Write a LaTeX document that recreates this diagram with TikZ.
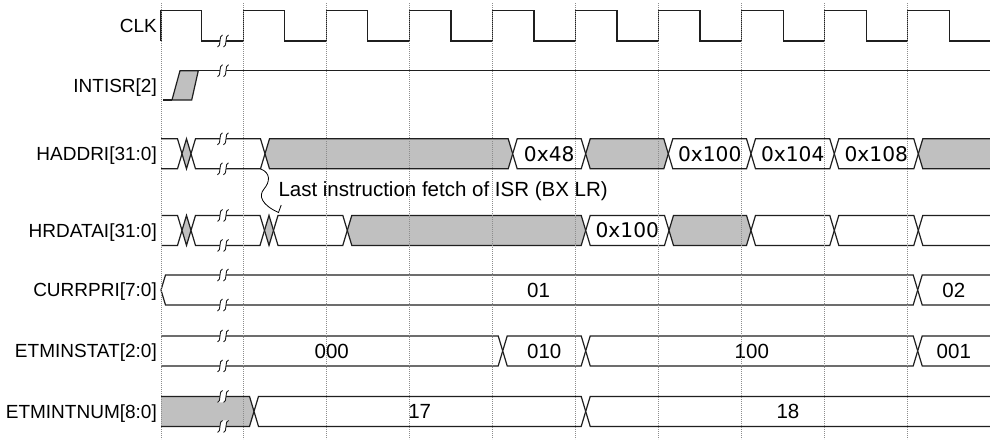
\documentclass[tikz,border=0pt]{standalone}
\usepackage{fontspec}
\setmainfont{Liberation Sans}
\newfontfamily\hexfont{DejaVu Sans}
\usetikzlibrary{arrows.meta}
\definecolor{busgrey}{RGB}{192,192,192}
\definecolor{gridgrey}{RGB}{140,140,140}
\tikzset{
  wave/.style={line width=1.2pt, draw=black!88, line join=miter},
  brkline/.style={line width=0.9pt, draw=black!88},
  gridline/.style={line width=0.7pt, draw=gridgrey, dash pattern=on 0.8pt off 1.2pt},
  lab/.style={anchor=base east, inner sep=0pt, font=\fontsize{19}{22}\selectfont},
  val/.style={anchor=base, inner sep=0pt, font=\fontsize{20.5}{24}\selectfont},
  hexval/.style={anchor=base, inner sep=0pt, font=\hexfont\fontsize{20.2}{24}\selectfont},
  note/.style={anchor=base west, inner sep=0pt, font=\fontsize{20.5}{24}\selectfont},
}
% bus segment between two crossing centres
\newcommand\busmid[4]{%
  \filldraw[wave,fill=#4] (#1,#3) -- ({#1+4.5},{#3-15}) -- ({#2-4.5},{#3-15}) -- (#2,#3) -- ({#2-4.5},{#3+15}) -- ({#1+4.5},{#3+15}) -- cycle;}
% bus segment open on the left (x=161)
\newcommand\busleft[3]{%
  \fill[#3] (161,{#2-15}) -- ({#1-4.5},{#2-15}) -- (#1,#2) -- ({#1-4.5},{#2+15}) -- (161,{#2+15}) -- cycle;
  \draw[wave] (161,{#2-15}) -- ({#1-4.5},{#2-15}) -- (#1,#2) -- ({#1-4.5},{#2+15}) -- (161,{#2+15});}
% bus segment open on the right (x=990)
\newcommand\busright[3]{%
  \fill[#3] (990,{#2-15}) -- ({#1+4.5},{#2-15}) -- (#1,#2) -- ({#1+4.5},{#2+15}) -- (990,{#2+15}) -- cycle;
  \draw[wave] (990,{#2-15}) -- ({#1+4.5},{#2-15}) -- (#1,#2) -- ({#1+4.5},{#2+15}) -- (990,{#2+15});}
% break mark on a line at height #1
\newcommand\brk[1]{%
  \fill[white] (217.5,{#1+6}) .. controls (221.5,{#1+6}) and (218.5,{#1-6}) .. (222.5,{#1-6})
     -- (228.5,{#1-6}) .. controls (224.5,{#1-6}) and (227.5,{#1+6}) .. (223.5,{#1+6}) -- cycle;
  \draw[brkline] (217.5,{#1+6}) .. controls (221.5,{#1+6}) and (218.5,{#1-6}) .. (222.5,{#1-6});
  \draw[brkline] (223.5,{#1+6}) .. controls (227.5,{#1+6}) and (224.5,{#1-6}) .. (228.5,{#1-6});}
\begin{document}
\begin{tikzpicture}[x=1pt,y=-1pt]
\useasboundingbox (0,0) rectangle (990,439);
\fill[white] (0,0) rectangle (990,439);

% ---------------- labels
\node[lab] (lclk) at (157,32.3) {CLK};
\node[lab] (lint) at (157,92.2) {INTISR[2]};
\node[lab] (lhaddr) at (157,160.6) {HADDRI[31:0]};
\node[lab] (lhrdata) at (157,237.2) {HRDATAI[31:0]};
\node[lab] (lcurr) at (157,296.8) {CURRPRI[7:0]};
\node[lab] (lstat) at (157,357.7) {ETMINSTAT[2:0]};
\node[lab] (lnum) at (157,418.2) {ETMINTNUM[8:0]};

% ---------------- CLK
\draw[wave] (161,41) -- (161,10.3) -- (201.7,10.3) -- (201.7,41)
  -- (243.3,41) -- (243.3,10.3) -- (284.8,10.3) -- (284.8,41)
  -- (326.35,41) -- (326.35,10.3) -- (367.85,10.3) -- (367.85,41)
  -- (409.4,41) -- (409.4,10.3) -- (450.9,10.3) -- (450.9,41)
  -- (492.45,41) -- (492.45,10.3) -- (533.95,10.3) -- (533.95,41)
  -- (575.5,41) -- (575.5,10.3) -- (617,10.3) -- (617,41)
  -- (658.55,41) -- (658.55,10.3) -- (700.05,10.3) -- (700.05,41)
  -- (741.6,41) -- (741.6,10.3) -- (783.1,10.3) -- (783.1,41)
  -- (824.65,41) -- (824.65,10.3) -- (866.15,10.3) -- (866.15,41)
  -- (907.7,41) -- (907.7,10.3) -- (949.2,10.3) -- (949.2,41) -- (990,41);
\brk{41}

% ---------------- INTISR[2]
\draw[wave] (163,100) -- (172,100);
\filldraw[wave,fill=busgrey] (172,100) -- (180,70.7) -- (198.3,70.7) -- (191.7,100) -- cycle;
\draw[wave] (198.3,70.7) -- (990,70.7);
\brk{70.7}

% ---------------- HADDRI[31:0]
\def\yc{153.8}
\busleft{182}{\yc}{white}
\busmid{182}{191}{\yc}{busgrey}
\busmid{191}{265}{\yc}{white}
\busmid{265}{512.7}{\yc}{busgrey}
\busmid{512.7}{585.7}{\yc}{white}
\busmid{585.7}{668.3}{\yc}{busgrey}
\busmid{668.3}{751}{\yc}{white}
\busmid{751}{834.3}{\yc}{white}
\busmid{834.3}{918.3}{\yc}{white}
\busright{918.3}{\yc}{busgrey}
\brk{138.8}\brk{168.8}
\node[hexval] (h48) at (549.2,161.1) {0x48};
\node[hexval] (h100) at (709.7,161.1) {0x100};
\node[hexval] (h104) at (792.7,161.1) {0x104};
\node[hexval] (h108) at (876.3,161.1) {0x108};

% ---------------- HRDATAI[31:0]
\def\yc{230.4}
\busleft{182}{\yc}{white}
\busmid{182}{191}{\yc}{busgrey}
\busmid{191}{264.5}{\yc}{white}
\busmid{264.5}{273.5}{\yc}{busgrey}
\busmid{273.5}{347.3}{\yc}{white}
\busmid{347.3}{585.7}{\yc}{busgrey}
\busmid{585.7}{669}{\yc}{white}
\busmid{669}{751}{\yc}{busgrey}
\busmid{751}{834.3}{\yc}{white}
\busmid{834.3}{918.3}{\yc}{white}
\busright{918.3}{\yc}{white}
\brk{215.4}\brk{245.4}
\node[hexval] (d100) at (627.3,237.7) {0x100};

% ---------------- annotation
\coordinate (nstart) at (260.5,168.8);
\coordinate (nend) at (278.5,212.5);
\coordinate (nbarb) at (281.2,205);
\draw[line width=0.8pt] (nstart) .. controls (271,173) and (270,182) .. (264,189)
   .. controls (258,196) and (262,205) .. (nend) -- (nbarb);
\node[note] (lastfetch) at (278.3,196.5) {Last instruction fetch of ISR (BX LR)};

% ---------------- CURRPRI[7:0]
\def\yc{290}
\busmid{161}{917.7}{\yc}{white}
\busright{917.7}{\yc}{white}
\brk{275}\brk{305}
\node[val] (c01) at (538.5,297.3) {01};
\node[val] (c02) at (953.8,297.3) {02};

% ---------------- ETMINSTAT[2:0]
\def\yc{350.9}
\busleft{502.7}{\yc}{white}
\busmid{502.7}{585.7}{\yc}{white}
\busmid{585.7}{917.7}{\yc}{white}
\busright{917.7}{\yc}{white}
\brk{335.9}\brk{365.9}
\node[val] (s000) at (331.8,358.2) {000};
\node[val] (s010) at (544.2,358.2) {010};
\node[val] (s100) at (751.8,358.2) {100};
\node[val] (s001) at (953.8,358.2) {001};

% ---------------- ETMINTNUM[8:0]
\def\yc{411.4}
\busleft{254}{\yc}{busgrey}
\busmid{254}{585.7}{\yc}{white}
\busright{585.7}{\yc}{white}
\brk{396.4}\brk{426.4}
\node[val] (n17) at (419.7,418.7) {17};
\node[val] (n18) at (787.9,418.7) {18};

% ---------------- grid lines (on top)
\foreach \gx in {161,243.3,326.35,409.4,492.45,575.5,658.55,741.6,824.65,907.7}
  \draw[gridline] (\gx,3) -- (\gx,439);
\end{tikzpicture}
\end{document}
